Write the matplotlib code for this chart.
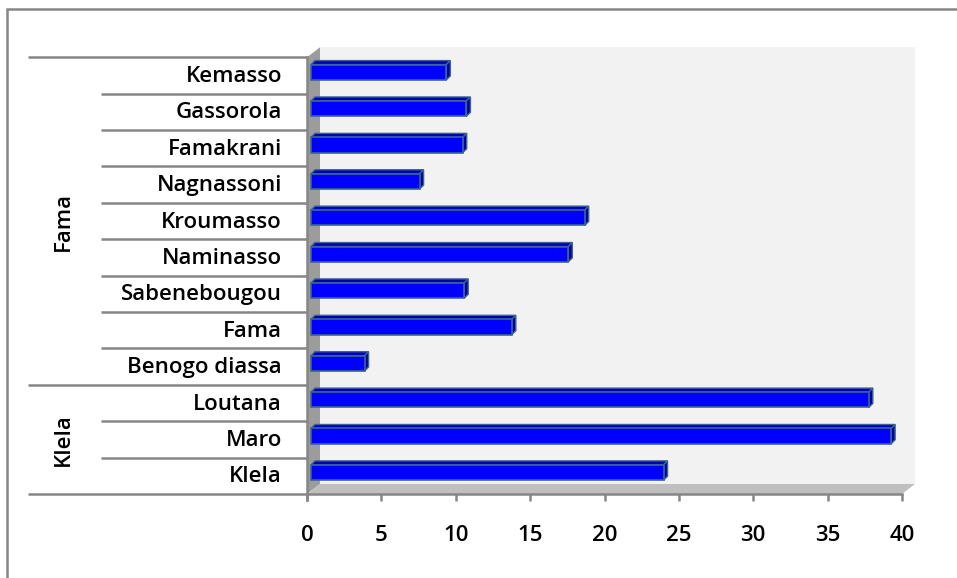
import matplotlib
matplotlib.use("Agg")
import matplotlib.pyplot as plt
from matplotlib.patches import Polygon, Rectangle
from matplotlib.transforms import blended_transform_factory

# villages, listed bottom to top as they sit on the chart
villages = ["Klela", "Maro", "Loutana", "Benogo diassa", "Fama", "Sabenebougou",
            "Naminasso", "Kroumasso", "Nagnassoni", "Famakrani", "Gassorola", "Kemasso"]
values = [23.7, 39.0, 37.5, 3.6, 13.5, 10.3, 17.3, 18.4, 7.3, 10.2, 10.45, 9.1]
groups = ["Klela", "Fama"]
group_sizes = [3, 9]
xticks = [0, 5, 10, 15, 20, 25, 30, 35, 40]

FONT = dict(fontsize=16, fontweight="semibold", family="Open Sans")

W, H = 957, 578
fig = plt.figure(figsize=(W / 100, H / 100), dpi=100)
fig.patch.set_facecolor("white")

# plot area in pixels
x0_px, x40_px, wall_right_px = 307, 902, 915
floor_px, top_px, wall_top_px = 494, 57.3, 47
ppu = (x40_px - x0_px) / 40.0
row_h = (floor_px - top_px) / 12.0
xmax = (wall_right_px - x0_px) / ppu
ymax = (floor_px - wall_top_px) / row_h

ax = fig.add_axes([x0_px / W, (H - floor_px) / H,
                   (wall_right_px - x0_px) / W, (floor_px - wall_top_px) / H])
ax.set_xlim(0, xmax)
ax.set_ylim(0, ymax)
for s in ax.spines.values():
    s.set_visible(False)
ax.set_yticks([])
ax.set_xticks(xticks)
ax.set_xticklabels([str(t) for t in xticks], **FONT)
ax.tick_params(axis="x", direction="out", length=5, width=1.8, color="#868686",
               pad=17)
ax.patch.set_alpha(0)

gray = "#868686"
# depth of the 3d box
dx = 13 / ppu
dy = 10 / row_h

# back wall, side wall, floor
ax.add_patch(Rectangle((dx, dy), xmax - dx, ymax - dy, facecolor="#f2f2f2",
                       edgecolor="none", zorder=0))
ax.add_patch(Polygon([(0, 0), (0, 12), (dx, 12 + dy), (dx, dy)],
                     facecolor="#9c9c9c", edgecolor="none", zorder=1))
ax.add_patch(Polygon([(0, 0), (40, 0), (40 + dx, dy), (dx, dy)],
                     facecolor="#bfbfbf", edgecolor="none", zorder=1))
ax.plot([0, 40], [0, 0], color=gray, lw=1.8, zorder=2, clip_on=False)
ax.plot([0, 0], [-6 / row_h, 12], color=gray, lw=1.8, zorder=2, clip_on=False)

# 3d bars
bd = 4 / ppu
bdy = 4 / row_h
edge = "#3a6492"
for i, v in enumerate(values):
    xs = bd
    yb = i + 0.38
    h = 0.42
    top = [(xs, yb + h), (xs + v, yb + h), (xs + v + bd, yb + h + bdy),
           (xs + bd, yb + h + bdy)]
    side = [(xs + v, yb), (xs + v + bd, yb + bdy), (xs + v + bd, yb + h + bdy),
            (xs + v, yb + h)]
    ax.add_patch(Polygon(top, facecolor="#0000b8", edgecolor=edge, lw=1.0, zorder=3))
    ax.add_patch(Polygon(side, facecolor="#00009a", edgecolor=edge, lw=1.0, zorder=3))
    ax.add_patch(Rectangle((xs, yb), v, h, facecolor="#0000ff", edgecolor=edge,
                           lw=1.2, zorder=4))

# category table on the left
tr = blended_transform_factory(fig.transFigure, ax.transData)
for i, name in enumerate(villages):
    ax.text(282 / W, i + 0.47, name, transform=tr, ha="right", va="center", **FONT)
bounds = [0]
for n in group_sizes:
    bounds.append(bounds[-1] + n)
for r in range(13):
    start = 28 if r in bounds else 101
    ax.plot([start / W, x0_px / W], [r, r], transform=tr, color=gray, lw=1.8,
            clip_on=False, solid_capstyle="butt")
for g, lo, hi in zip(groups, bounds[:-1], bounds[1:]):
    ax.text(63 / W, (lo + hi) / 2, g, transform=tr, rotation=90, ha="center",
            va="center", **FONT)

# outer chart border
fig.add_artist(Rectangle((7 / W, -0.1), 1.2, 1.1 - 9 / H, transform=fig.transFigure,
                         facecolor="none", edgecolor=gray, lw=1.8))

fig.savefig("out.png", dpi=100)
